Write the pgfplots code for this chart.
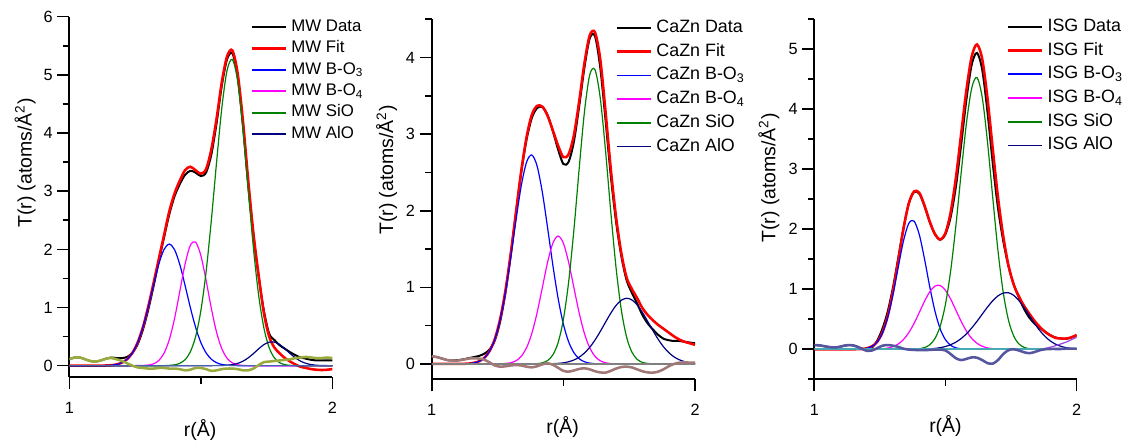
\documentclass[border=0pt]{standalone}
\usepackage{fontspec}
\setmainfont{Liberation Sans}
\usepackage{pgfplots}
\usepackage{pgfplotstable}
\pgfplotsset{compat=1.18}

\definecolor{resA}{RGB}{155,170,60}
\definecolor{zeroA}{RGB}{70,100,170}
\definecolor{resB}{RGB}{160,120,120}
\definecolor{zeroB}{RGB}{128,128,128}
\definecolor{resC}{RGB}{85,85,160}
\definecolor{zeroC}{RGB}{70,170,180}
\definecolor{violetC}{RGB}{150,70,230}
\definecolor{navyc}{RGB}{0,0,128}
\definecolor{greenc}{RGB}{0,128,0}
\definecolor{bluec}{RGB}{0,0,255}
\definecolor{magc}{RGB}{255,0,255}

\pgfplotstableread{
r data fit bo3 bo4 sio alo res
1.00 0.11 0 0 0 0 0 0.11
1.02 0.14 0 0 0 0 0 0.14
1.04 0.14 0 0 0 0 0 0.14
1.06 0.11 0 0 0 0 0 0.11
1.08 0.08 0 0 0 0 0 0.08
1.10 0.07 0 0 0 0 0 0.07
1.12 0.09 0 0 0 0 0 0.09
1.14 0.12 0.003 0.003 0 0 0 0.12
1.16 0.14 0.008 0.008 0 0 0 0.13
1.18 0.13 0.021 0.021 0 0 0 0.11
1.20 0.13 0.051 0.051 0 0 0 0.08
1.22 0.15 0.111 0.111 0 0 0 0.04
1.24 0.22 0.220 0.220 0 0 0 0.00
1.26 0.37 0.400 0.400 0.002 0 0 -0.03
1.28 0.62 0.663 0.663 0.004 0 0 -0.04
1.30 0.96 1.013 1.003 0.010 0 0 -0.05
1.32 1.36 1.414 1.383 0.031 0 0 -0.05
1.34 1.79 1.83 1.740 0.088 0 0 -0.04
1.36 2.20 2.24 1.996 0.212 0 0 -0.04
1.38 2.60 2.65 2.090 0.444 0.005 0 -0.05
1.40 2.91 2.96 1.996 0.807 0.014 0 -0.05
1.42 3.12 3.18 1.740 1.274 0.040 0 -0.06
1.44 3.28 3.36 1.383 1.742 0.102 0 -0.08
1.46 3.35 3.42 1.003 2.067 0.236 0 -0.07
1.48 3.32 3.36 0.663 2.126 0.495 0 -0.04
1.50 3.26 3.30 0.400 1.897 0.939 0 -0.04
1.52 3.32 3.38 0.220 1.468 1.610 0 -0.06
1.54 3.63 3.72 0.111 0.986 2.497 0 -0.09
1.56 4.17 4.25 0.051 0.573 3.500 0.001 -0.08
1.58 4.82 4.88 0.021 0.290 4.435 0.003 -0.06
1.60 5.27 5.32 0.008 0.127 5.081 0.007 -0.05
1.62 5.37 5.42 0.003 0.048 5.264 0.018 -0.05
1.64 4.97 5.03 0 0.016 4.897 0.039 -0.06
1.66 4.14 4.22 0 0.004 4.076 0.076 -0.08
1.68 3.12 3.20 0 0 3.038 0.133 -0.08
1.70 2.23 2.28 0 0 2.024 0.207 -0.05
1.72 1.53 1.55 0 0 1.208 0.290 0.01
1.74 0.94 0.90 0 0 0.645 0.362 0.06
1.76 0.55 0.50 0 0 0.308 0.404 0.07
1.78 0.44 0.31 0 0 0.132 0.404 0.08
1.80 0.35 0.21 0 0 0.050 0.362 0.09
1.82 0.29 0.13 0 0 0.017 0.290 0.10
1.84 0.23 0.07 0 0 0.005 0.207 0.11
1.86 0.18 0.02 0 0 0 0.133 0.13
1.88 0.14 -0.02 0 0 0 0.076 0.14
1.90 0.12 -0.04 0 0 0 0.039 0.15
1.92 0.10 -0.06 0 0 0 0.018 0.14
1.94 0.09 -0.07 0 0 0 0.007 0.13
1.96 0.09 -0.075 0 0 0 0.003 0.13
1.98 0.09 -0.07 0 0 0 0.001 0.14
2.00 0.09 -0.06 0 0 0 0 0.13
}\tabA

\pgfplotstableread{
r data fit bo3 bo4 sio alo res
1.00 0.10 0 0 0 0 0 0.10
1.02 0.09 0 0 0 0 0 0.09
1.04 0.07 0 0 0 0 0 0.07
1.06 0.05 0 0 0 0 0 0.05
1.08 0.045 0 0 0 0 0 0.045
1.10 0.05 0 0 0 0 0 0.045
1.12 0.06 0.002 0.002 0 0 0 0.055
1.14 0.075 0.005 0.005 0 0 0 0.07
1.16 0.09 0.015 0.014 0 0 0 0.075
1.18 0.105 0.035 0.035 0 0 0 0.07
1.20 0.135 0.08 0.080 0 0 0 0.055
1.22 0.19 0.17 0.169 0 0 0 0.02
1.24 0.31 0.33 0.327 0.001 0 0 -0.02
1.26 0.555 0.59 0.579 0.002 0 0 -0.035
1.28 0.93 0.96 0.936 0.006 0 0 -0.03
1.30 1.42 1.44 1.387 0.016 0 0 -0.02
1.32 1.97 1.98 1.877 0.042 0 0 -0.013
1.34 2.50 2.52 2.325 0.100 0 0 -0.02
1.36 2.925 2.96 2.633 0.211 0 0 -0.035
1.38 3.21 3.25 2.729 0.397 0.001 0 -0.044
1.40 3.34 3.37 2.587 0.666 0.004 0 -0.03
1.42 3.355 3.36 2.243 0.996 0.015 0.001 -0.005
1.44 3.25 3.24 1.779 1.327 0.045 0.002 0.008
1.46 3.04 3.05 1.291 1.577 0.119 0.004 -0.01
1.48 2.80 2.85 0.857 1.670 0.279 0.008 -0.05
1.50 2.61 2.70 0.520 1.577 0.580 0.015 -0.09
1.52 2.64 2.74 0.289 1.327 1.070 0.029 -0.10
1.54 2.905 2.99 0.147 0.996 1.753 0.052 -0.085
1.56 3.365 3.43 0.068 0.666 2.549 0.089 -0.065
1.58 3.87 3.93 0.029 0.397 3.291 0.143 -0.057
1.60 4.25 4.29 0.011 0.211 3.774 0.217 -0.07
1.62 4.28 4.33 0.004 0.100 3.842 0.312 -0.095
1.64 3.87 3.98 0.001 0.042 3.473 0.424 -0.11
1.66 3.19 3.30 0 0.016 2.787 0.545 -0.113
1.68 2.46 2.55 0 0.005 1.986 0.663 -0.09
1.70 1.86 1.92 0 0.001 1.257 0.764 -0.06
1.72 1.41 1.45 0 0 0.706 0.832 -0.04
1.74 1.095 1.13 0 0 0.352 0.858 -0.035
1.76 0.93 0.98 0 0 0.156 0.837 -0.045
1.78 0.79 0.86 0 0 0.061 0.772 -0.07
1.80 0.64 0.73 0 0 0.021 0.674 -0.095
1.82 0.53 0.64 0 0 0.007 0.557 -0.11
1.84 0.45 0.57 0 0 0.002 0.436 -0.113
1.86 0.38 0.51 0 0 0 0.322 -0.10
1.88 0.33 0.46 0 0 0 0.225 -0.07
1.90 0.31 0.41 0 0 0 0.149 -0.03
1.92 0.30 0.36 0 0 0 0.093 0.0
1.94 0.30 0.32 0 0 0 0.055 0.017
1.96 0.29 0.29 0 0 0 0.031 0.02
1.98 0.28 0.27 0 0 0 0.016 0.018
2.00 0.27 0.25 0 0 0 0.008 0.017
}\tabB

\pgfplotstableread{
r data fit bo3 bo4 sio alo res ext
1.00 0.07 0 0 0 0 0 0.07 0
1.02 0.065 0 0 0 0 0 0.065 0
1.04 0.05 0 0 0 0 0 0.05 0
1.06 0.035 0 0 0 0 0 0.035 0
1.08 0.03 0 0 0 0 0 0.03 0
1.10 0.045 0 0 0 0 0 0.045 0
1.12 0.065 0 0 0 0 0 0.065 0
1.14 0.07 0 0 0 0 0 0.07 0
1.16 0.05 0.001 0.001 0 0 0 0.05 0
1.18 0.015 0.005 0.005 0 0 0 0.01 0
1.20 -0.008 0.017 0.017 0.001 0 0 -0.025 0
1.22 0.03 0.05 0.049 0.001 0 0 -0.02 0
1.24 0.145 0.125 0.123 0.003 0 0 0.02 0
1.26 0.345 0.285 0.273 0.008 0 0 0.06 0
1.28 0.63 0.56 0.532 0.020 0 0 0.07 0
1.30 1.03 0.97 0.910 0.044 0 0 0.06 0
1.32 1.52 1.48 1.368 0.088 0 0 0.04 0
1.34 2.02 2.01 1.807 0.163 0 0 0.01 0
1.36 2.425 2.43 2.097 0.276 0.001 0 -0.005 0
1.38 2.62 2.63 2.138 0.429 0.004 0.001 -0.01 0
1.40 2.595 2.61 1.915 0.611 0.010 0.002 -0.015 0
1.42 2.385 2.40 1.508 0.799 0.028 0.004 -0.015 0
1.44 2.12 2.13 1.043 0.958 0.075 0.008 -0.01 0
1.46 1.915 1.92 0.634 1.053 0.180 0.015 -0.005 0
1.48 1.825 1.83 0.338 1.063 0.387 0.027 -0.005 0
1.50 1.92 1.94 0.159 0.983 0.752 0.047 -0.02 0
1.52 2.21 2.29 0.065 0.834 1.316 0.077 -0.08 0
1.54 2.72 2.87 0.024 0.649 2.074 0.120 -0.15 0
1.56 3.42 3.60 0.008 0.463 2.947 0.180 -0.18 0
1.58 4.17 4.33 0.002 0.303 3.773 0.258 -0.16 0
1.60 4.745 4.88 0 0.182 4.353 0.355 -0.135 0
1.62 4.94 5.08 0 0.100 4.530 0.466 -0.14 0
1.64 4.66 4.84 0 0.051 4.200 0.585 -0.18 0
1.66 3.96 4.19 0 0.023 3.460 0.703 -0.23 0
1.68 3.11 3.35 0 0.010 2.535 0.809 -0.24 0
1.70 2.36 2.54 0 0.004 1.647 0.890 -0.18 0
1.72 1.81 1.89 0 0.001 0.950 0.936 -0.08 0
1.74 1.385 1.40 0 0 0.487 0.942 -0.015 0
1.76 1.08 1.08 0 0 0.222 0.899 0.0 0
1.78 0.86 0.88 0 0 0.089 0.811 -0.02 0
1.80 0.67 0.72 0 0 0.032 0.693 -0.05 0
1.82 0.525 0.59 0 0 0.010 0.560 -0.065 0
1.84 0.425 0.47 0 0 0.003 0.428 -0.045 0
1.86 0.355 0.37 0 0 0 0.309 -0.015 0.005
1.88 0.29 0.29 0 0 0 0.212 0.0 0.015
1.90 0.235 0.23 0 0 0 0.137 0.005 0.035
1.92 0.195 0.19 0 0 0 0.084 0.005 0.06
1.94 0.18 0.18 0 0 0 0.049 0.005 0.09
1.96 0.175 0.18 0 0 0 0.027 0.01 0.12
1.98 0.195 0.20 0 0 0 0.014 0.01 0.16
2.00 0.23 0.24 0 0 0 0.007 0.01 0.20
}\tabC

\pgfplotsset{
  panel/.style={
    scale only axis,
    axis lines=left,
    axis line style={-, line width=1.4pt},
    xmin=1, xmax=2, xtick={1,2}, minor xtick={1.5},
    tick align=outside,
    major tick length=9pt, minor tick length=5pt,
    every tick/.style={line width=1.2pt, black},
    /pgf/number format/assume math mode=true,
    ticklabel style={font=\fontsize{12.2}{14}\selectfont},
    xticklabel style={yshift=-6pt},
    xlabel={r(Å)},
    ylabel={T(r) (atoms/Å\textsuperscript{2})},
    label style={font=\fontsize{14.6}{17}\selectfont},
    legend cell align=left,
    legend image code/.code={\draw[##1] (0pt,0pt) -- (26pt,0pt);},
    legend style={draw=none, fill=none, anchor=north west, inner sep=0pt,
      column sep=3pt},
  },
  dat/.style={color=black, line width=1.5pt, smooth},
  fitl/.style={color=red, line width=1.9pt, smooth},
  comp/.style={line width=0.9pt, smooth, legend image post style={line width=1.3pt}},
}

\begin{document}
\begin{tikzpicture}
\useasboundingbox (0,0) rectangle (845.25pt,330.75pt);

% ---------- MW ----------
\begin{axis}[panel,
  at={(51.98pt,47.78pt)}, anchor=south west,
  width=197.25pt, height=270.45pt,
  ymin=-0.2, ymax=6, ytick={0,1,2,3,4,5,6}, minor ytick={0.5,1.5,2.5,3.5,4.5,5.5},
  ylabel style={at={(axis description cs:-0.168,0.594)}, anchor=center},
  xlabel style={at={(axis description cs:0.497,-0.146)}, anchor=center},
  legend style={at={(axis description cs:0.687,0.994)},
    font=\fontsize{12.6}{14}\selectfont, row sep=4.6pt,
    nodes={inner sep=0pt, text height=9pt, text depth=2.5pt}},
]
\addplot[dat] table[x=r,y=data]{\tabA};
\addlegendentry{MW Data}
\addplot[fitl] table[x=r,y=fit]{\tabA};
\addlegendentry{MW Fit}
\addplot[comp, color=bluec] table[x=r,y=bo3]{\tabA};
\addlegendentry{MW B-O\textsubscript{3}}
\addplot[comp, color=magc] table[x=r,y=bo4]{\tabA};
\addlegendentry{MW B-O\textsubscript{4}}
\addplot[comp, color=greenc] table[x=r,y=sio]{\tabA};
\addlegendentry{MW SiO}
\addplot[comp, color=navyc] table[x=r,y=alo]{\tabA};
\addlegendentry{MW AlO}
\addplot[color=zeroA, line width=1.2pt, forget plot] coordinates {(1,0) (2,0)};
\addplot[color=resA, line width=1.9pt, smooth, forget plot] table[x=r,y=res]{\tabA};
\end{axis}

% ---------- CaZn ----------
\begin{axis}[panel,
  at={(323.78pt,46.28pt)}, anchor=south west,
  width=197.5pt, height=270pt,
  ymin=-0.2, ymax=4.5, ytick={0,1,2,3,4}, minor ytick={0.5,1.5,2.5,3.5,4.5},
  ylabel style={at={(axis description cs:-0.171,0.581)}, anchor=center},
  xlabel style={at={(axis description cs:0.497,-0.132)}, anchor=center},
  legend style={at={(axis description cs:0.696,1.0)},
    font=\fontsize{13.4}{15}\selectfont, row sep=5.2pt,
    nodes={inner sep=0pt, text height=9.6pt, text depth=3pt}},
]
\addplot[dat] table[x=r,y=data]{\tabB};
\addlegendentry{CaZn Data}
\addplot[fitl] table[x=r,y=fit]{\tabB};
\addlegendentry{CaZn Fit}
\addplot[comp, color=bluec] table[x=r,y=bo3]{\tabB};
\addlegendentry{CaZn B-O\textsubscript{3}}
\addplot[comp, color=magc] table[x=r,y=bo4]{\tabB};
\addlegendentry{CaZn B-O\textsubscript{4}}
\addplot[comp, color=greenc] table[x=r,y=sio]{\tabB};
\addlegendentry{CaZn SiO}
\addplot[comp, color=navyc] table[x=r,y=alo]{\tabB};
\addlegendentry{CaZn AlO}
\addplot[color=zeroB, line width=2.2pt, forget plot] coordinates {(1,0) (2,0)};
\addplot[color=resB, line width=1.9pt, smooth, forget plot] table[x=r,y=res]{\tabB};
\end{axis}

% ---------- ISG ----------
\begin{axis}[panel,
  at={(610.7pt,46.28pt)}, anchor=south west,
  width=196.8pt, height=270pt,
  ymin=-0.5, ymax=5.5, ytick={0,1,2,3,4,5}, minor ytick={-0.5,0.5,1.5,2.5,3.5,4.5,5.5},
  ylabel style={at={(axis description cs:-0.173,0.559)}, anchor=center},
  xlabel style={at={(axis description cs:0.5,-0.13)}, anchor=center},
  legend style={at={(axis description cs:0.731,1.003)},
    font=\fontsize{13.4}{15}\selectfont, row sep=5.2pt,
    nodes={inner sep=0pt, text height=9.6pt, text depth=3pt}},
]
\addplot[dat] table[x=r,y=data]{\tabC};
\addlegendentry{ISG Data}
\addplot[fitl] table[x=r,y=fit]{\tabC};
\addlegendentry{ISG Fit}
\addplot[comp, color=bluec] table[x=r,y=bo3]{\tabC};
\addlegendentry{ISG B-O\textsubscript{3}}
\addplot[comp, color=magc] table[x=r,y=bo4]{\tabC};
\addlegendentry{ISG B-O\textsubscript{4}}
\addplot[comp, color=greenc] table[x=r,y=sio]{\tabC};
\addlegendentry{ISG SiO}
\addplot[comp, color=navyc] table[x=r,y=alo]{\tabC};
\addlegendentry{ISG AlO}
\addplot[comp, color=violetC, forget plot, restrict x to domain=1.84:2] table[x=r,y=ext]{\tabC};
\addplot[color=zeroC, line width=1.2pt, forget plot] coordinates {(1,0) (2,0)};
\addplot[color=resC, line width=1.9pt, smooth, forget plot] table[x=r,y=res]{\tabC};
\end{axis}
\end{tikzpicture}
\end{document}
